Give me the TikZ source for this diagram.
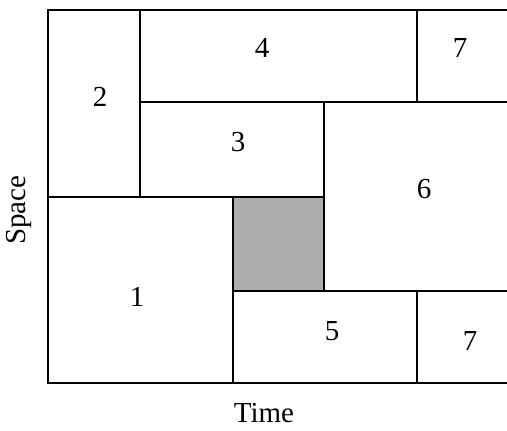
\documentclass[tikz,border=0pt]{standalone}
\usepackage{fontspec}
\setmainfont{Liberation Serif}
\usetikzlibrary{positioning}

\tikzset{
	wall/.style={line width=1.1pt},
	cell/.style={font=\fontsize{16.5}{18}\selectfont},
	idle/.style={wall, fill=black!32}
}

\begin{document}
\begin{tikzpicture}[x=0.02cm, y=-0.02cm]
	\useasboundingbox (0,0) rectangle (507,430);
	% shaded slot
	\draw[idle] (233,197) rectangle (324,291);
	% outer frame, open on the right
	\draw[wall] (507,10) -- (48,10) -- (48,383) -- (507,383);
	% partitions
	\draw[wall] (140,10) -- (140,197);
	\draw[wall] (417,10) -- (417,102);
	\draw[wall] (140,102) -- (507,102);
	\draw[wall] (48,197) -- (324,197);
	\draw[wall] (324,102) -- (324,291);
	\draw[wall] (233,197) -- (233,383);
	\draw[wall] (233,291) -- (507,291);
	\draw[wall] (417,291) -- (417,383);
	% labels
	\node[cell] (one) at (137,297) {1};
	\node[cell] (two) at (100,97) {2};
	\node[cell] (three) at (238,142) {3};
	\node[cell] (four) at (262,48) {4};
	\node[cell] (five) at (332,331) {5};
	\node[cell] (six) at (424,189) {6};
	\node[cell] (sevena) at (460,48) {7};
	\node[cell] (sevenb) at (470,341) {7};
	\node[cell, rotate=90] (space) at (19,210) {Space};
	\node[cell] (time) at (264,413) {Time};
\end{tikzpicture}
\end{document}
